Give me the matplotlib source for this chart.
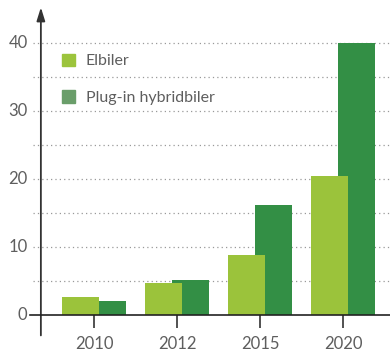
import matplotlib.pyplot as plt
import numpy as np
from matplotlib.patches import Patch

plt.rcParams['font.family'] = ['Lato', 'DejaVu Sans']

years = ['2010', '2012', '2015', '2020']
elbiler = [2.6, 4.7, 8.8, 20.5]
plugin = [2.0, 5.1, 16.2, 40.0]

light = '#9bc33b'
dark = '#338f45'
txt = '#5e5e5e'

fig = plt.figure(figsize=(3.9, 3.52), dpi=100)
ax = fig.add_axes([30 / 390, (352 - 335.4) / 352, 360 / 390, 326 / 352])

x = np.arange(len(years))
w = 0.446
off = 0.163
# dark bars behind the light ones
ax.bar(x + off, plugin, width=w, color=dark, zorder=2)
ax.bar(x - off, elbiler, width=w, color=light, zorder=3)

ax.set_xlim(-0.771, 3.566)
ax.set_ylim(-3, 45)

# dotted grid
for g in range(5, 45, 5):
    ax.hlines(g, -0.735, 3.566, colors='#999999', linestyles=(0, (1, 2.5)),
              linewidth=0.9, zorder=1)

for s in ['top', 'right', 'left']:
    ax.spines[s].set_visible(False)
ax.spines['bottom'].set_position(('data', 0))
ax.spines['bottom'].set_color('#222222')
ax.spines['bottom'].set_linewidth(1.2)
ax.spines['bottom'].set_zorder(4)

# y axis with arrow
yx = -0.64
ax.annotate('', xy=(yx, 45.3), xytext=(yx, -3), annotation_clip=False,
            arrowprops=dict(arrowstyle='-|>,head_length=0.8,head_width=0.25',
                            color='#333333', lw=1.3, shrinkA=0, shrinkB=0))

ax.set_xticks(x)
ax.set_xticklabels(years)
ax.tick_params(axis='x', length=9, width=1.2, color='#333333', pad=6,
               labelsize=12, labelcolor=txt)

ax.set_yticks([])
for v in [0, 10, 20, 30, 40]:
    ax.text(-0.80, v, str(v), ha='right', va='center', fontsize=12, color=txt)

handles = [Patch(color='#9cc43c'), Patch(color='#6a9e6a')]
leg = ax.legend(handles, ['Elbiler', 'Plug-in hybridbiler'], loc='upper left',
                bbox_to_anchor=(0.049, 0.908), frameon=False, fontsize=11.5,
                handlelength=0.8, handleheight=0.8, labelspacing=1.38,
                handletextpad=0.7, labelcolor=txt)
leg.set_zorder(5)

fig.savefig('out.png', dpi=100)
